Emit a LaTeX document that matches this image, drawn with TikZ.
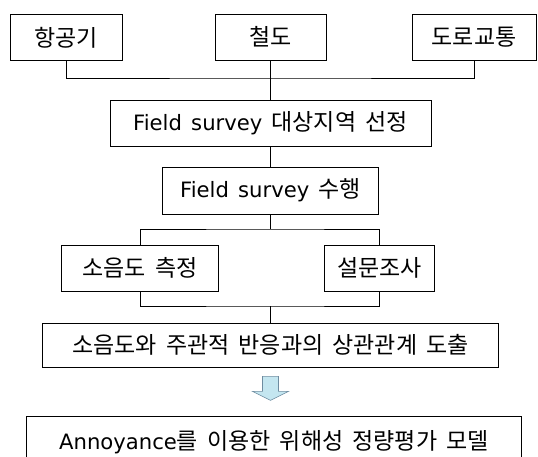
\documentclass[tikz,border=0pt]{standalone}
\usepackage{fontspec}
\setmainfont{Noto Sans CJK KR}
\newfontfamily\lat[Scale=0.92]{DejaVu Sans}
\usetikzlibrary{positioning}
\definecolor{arrowfill}{RGB}{196,230,240}
\definecolor{arrowline}{RGB}{110,140,160}
\newcommand{\en}[1]{{\lat #1}}
\newcommand{\boxfont}{\fontsize{23}{26}\selectfont\spaceskip=0.4em\relax}

\begin{document}
\begin{tikzpicture}[x=1pt,y=-1pt,on grid,
   box/.style={draw,line width=0.8pt,minimum height=46pt,inner sep=2pt,
               font=\boxfont},
   link/.style={line width=0.8pt}]
   \clip (0,0) rectangle (538,457);
   \node[box,minimum width=112pt] (air)  at (66,37.5) {항공기};
   \node[box,minimum width=111pt] (rail) at (270.5,37) {철도};
   \node[box,minimum width=124pt] (road) at (474,37.5) {도로교통};
   \node[box,minimum width=321pt] (site) [below=86pt of rail] {\en{Field survey} 대상지역 선정};
   \node[box,minimum width=216pt,minimum height=47pt] (perform) [below=67.5pt of site] {\en{Field survey} 수행};
   \node[box,minimum width=157pt] (noise) [below left=77.5pt and 130.5pt of perform] {소음도 측정};
   \node[box,minimum width=110pt] (quest) [below right=77.5pt and 109pt of perform] {설문조사};
   \node[box,minimum width=456pt,minimum height=44pt] (corr) [below=154.5pt of perform] {소음도와 주관적 반응과의 상관관계 도출};
   \node[box,minimum width=495pt,minimum height=52pt] (model) [below=97pt of corr,xshift=3.5pt] {\en{Annoyance}를 이용한 위해성 정량평가 모델};
   \coordinate[below=41pt of rail] (bus);
   \coordinate[below=38.5pt of perform] (split);
   \coordinate[below=115.5pt of perform] (join);
   \draw[link] (air.south) |- (bus) -| (road.south);
   \draw[link] (rail.south) -- (site.north);
   \draw[link] (site.south) -- (perform.north);
   \draw[link] (perform.south) -- (split);
   \draw[link] (noise.north) |- (split) -| (quest.north);
   \draw[link] (noise.south) |- (join) -| (quest.south);
   \draw[link] (join) -- (corr.north);
   % block arrow
   \draw[line width=0.6pt,draw=arrowline,fill=arrowfill]
     (corr.south) ++(-8,9) -- ++(16,0) -- ++(0,15) -- ++(10,0)
     -- ++(-18,9) -- ++(-18,-9) -- ++(10,0) -- cycle;
\end{tikzpicture}
\end{document}
